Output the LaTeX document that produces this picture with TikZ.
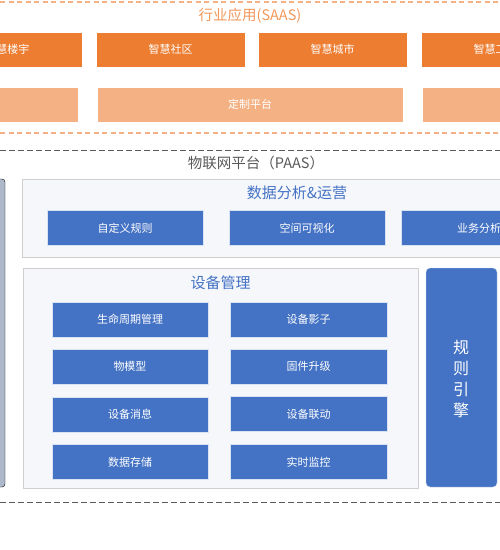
\documentclass[tikz,border=0pt]{standalone}
\usepackage{fontspec}
\setmainfont{Noto Sans CJK SC}
\definecolor{orgdark}{HTML}{ED7D31}
\definecolor{orglight}{HTML}{F4B183}
\definecolor{blu}{HTML}{4472C4}
\definecolor{slate}{HTML}{ADB9CA}
\definecolor{panel}{HTML}{F5F7FB}
\definecolor{panelb}{HTML}{CFCFCF}
\definecolor{dgray}{HTML}{595959}
\tikzset{
  obox/.style={fill=orgdark, draw=white, line width=0.6pt, text=white, inner sep=0pt, minimum width=149pt, minimum height=35pt, font=\fontsize{11}{13}\selectfont},
  lbox/.style={fill=orglight, draw=white, line width=0.6pt, text=white, inner sep=0pt, minimum height=35pt, font=\fontsize{11}{13}\selectfont},
  bbox/.style={fill=blu, draw=white!80!blu, line width=0.5pt, text=white, inner sep=0pt, minimum width=156pt, minimum height=35pt, font=\fontsize{11}{13}\selectfont},
  panelbox/.style={fill=panel, draw=panelb, line width=0.8pt, inner sep=0pt},
  odash/.style={draw=orglight, line width=1.3pt, dash pattern=on 5pt off 3.5pt},
  gdash/.style={draw=dgray, line width=0.9pt, dash pattern=on 5.5pt off 3.5pt},
  ttl/.style={inner sep=0pt, font=\fontsize{14.5}{16}\selectfont}
}
\begin{document}
\begin{tikzpicture}[x=1pt,y=-1pt]
\useasboundingbox (0,0) rectangle (500,550);
\clip (0,0) rectangle (500,550);
% SAAS layer
\draw[odash] (0,2) -- (500,2);
\draw[odash] (0,133) -- (500,133);
\node[ttl, text=orgdark!80] (saas) at (250,16) {行业应用(SAAS)};
\node[obox] (a1) at (7.5,49.5) {智慧楼宇};
\node[obox] (a2) at (170.5,49.5) {智慧社区};
\node[obox] (a3) at (332.5,49.5) {智慧城市};
\node[obox] (a4) at (495.5,49.5) {智慧工厂};
\node[lbox, minimum width=156pt] (b1) at (0,104.5) {};
\node[lbox, minimum width=306pt] (b2) at (250,104.5) {定制平台};
\node[lbox, minimum width=156pt] (b3) at (500,104.5) {};
% PAAS layer
\draw[gdash] (0,150) -- (500,150);
\draw[gdash] (0,502) -- (500,502);
\node[ttl, text=dgray] (paas) at (256,163) {物联网平台（PAAS）};
\draw[fill=slate, rounded corners=3pt] (-20,179) rectangle (5,487);
\node[panelbox, minimum width=500pt, minimum height=78pt] (dp) at (272,218) {};
\node[ttl, text=blu, font=\fontsize{15}{17}\selectfont] (dpt) at (297,193) {数据分析\&运营};
\node[bbox] (d1) at (125,228) {自定义规则};
\node[bbox] (d2) at (307,228) {空间可视化};
\node[bbox] (d3) at (479,228) {业务分析};
\node[panelbox, minimum width=395pt, minimum height=220pt] (dm) at (220.5,378) {};
\node[ttl, text=blu, font=\fontsize{15}{17}\selectfont] (dmt) at (220.5,283) {设备管理};
\node[bbox] (m1) at (130,319.5) {生命周期管理};
\node[bbox] (m2) at (130,366.5) {物模型};
\node[bbox] (m3) at (130,414.5) {设备消息};
\node[bbox] (m4) at (130,462) {数据存储};
\node[bbox, minimum width=157pt] (n1) at (308.5,319.5) {设备影子};
\node[bbox, minimum width=157pt] (n2) at (308.5,366.5) {固件升级};
\node[bbox, minimum width=157pt] (n3) at (308.5,414) {设备联动};
\node[bbox, minimum width=157pt] (n4) at (308.5,462) {实时监控};
\node[fill=blu, draw=white!70!blu, rounded corners=4pt, minimum width=71pt, minimum height=219pt, inner sep=0pt] (re) at (461.5,377.5) {};
\node[text=white, align=center, inner sep=0pt, font=\fontsize{16}{20.7}\selectfont] (ret) at (461,379) {规\\则\\引\\擎};
\end{tikzpicture}
\end{document}
